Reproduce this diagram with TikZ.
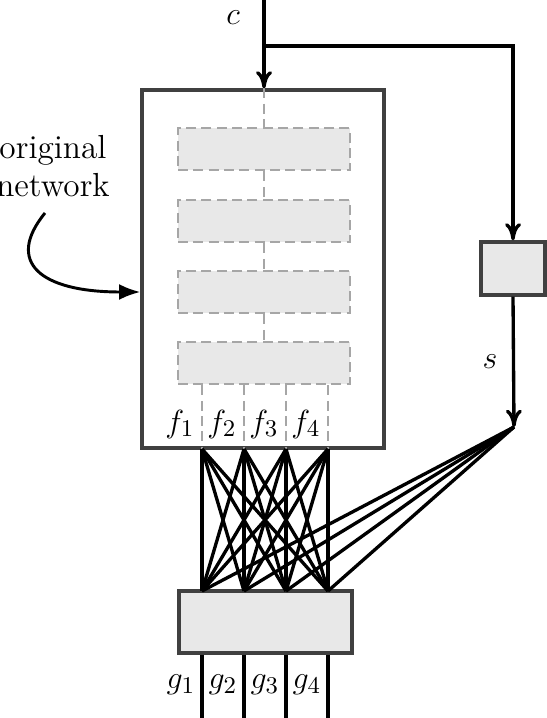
\documentclass[tikz,border=0pt]{standalone}
\usetikzlibrary{arrows.meta}

\begin{document}
\begin{tikzpicture}[x=0.375pt,y=-0.375pt,
  every node/.style={font=\fontsize{12.5}{14}\selectfont},
  frame/.style={draw=black!75,line width=1.2pt,inner sep=0pt},
  layer/.style={draw=black!35,fill=black!9,dash pattern=on 3.75pt off 2pt,line width=1.1pt,inner sep=0pt,
    minimum width=64.5pt,minimum height=15.75pt},
  spine/.style={draw=black!35,dash pattern=on 3.75pt off 2pt,line width=1.1pt},
  wire/.style={line width=1.25pt},
  tip/.style={-{To[length=6.5pt,width=6pt]}}]
\useasboundingbox (0,0) rectangle (546,718);
% the network and its layers
\node[frame,minimum width=90.75pt,minimum height=134.25pt] (net) at (263,269) {};
\node[layer] (layer1) at (264,149) {};
\node[layer] (layer2) at (264,221) {};
\node[layer] (layer3) at (264,292) {};
\node[layer] (layer4) at (264,363) {};
\draw[spine] (net.north -| layer1) -- (layer1.north);
\draw[spine] (layer1.south) -- (layer2.north);
\draw[spine] (layer2.south) -- (layer3.north);
\draw[spine] (layer3.south) -- (layer4.north);
% gate and mixing box
\node[frame,fill=black!9,minimum width=24pt,minimum height=19.9pt] (gate) at (513,268.5) {};
\node[frame,fill=black!9,minimum width=64.9pt,minimum height=23.25pt] (mix) at (265.5,622) {};
\coordinate (sp) at (514,427);
\coordinate (cin) at (264,0);
\coordinate (split) at (264,46);
% features and outputs
\foreach \i/\x in {1/202,2/244,3/286,4/328} {
  \coordinate (f\i) at (\x,449);
  \coordinate (g\i) at (\x,591);
  \coordinate (o\i) at (\x,718);
  \draw[spine] (layer4.south -| f\i) -- (f\i);
  \node at (\x-22,424) {$f_\i$};
  \node at (\x-21,685) {$g_\i$};
  \draw[wire] (mix.south -| g\i) -- (o\i);
  \draw[wire] (sp) -- (g\i);
}
\foreach \i in {1,...,4}
  \foreach \j in {1,...,4}
    \draw[wire] (f\i) -- (g\j);
% inputs
\node at (233,18) {$c$};
\draw[wire,tip] (cin) -- (net.north -| cin);
\draw[wire,tip] (split) -| (gate.north);
\draw[wire,tip] (gate.south) -- (sp);
\node at (490,362) {$s$};
% note
\node[align=center,font=\fontsize{12.5}{14}\selectfont] (note) at (53,166) {original\\network};
\coordinate (notetail) at (45,213);
\draw[line width=1.1pt,-{Latex[length=8pt,width=6pt]}] (notetail) .. controls (5,262) and (40,292) .. (net.west |- layer3);
\end{tikzpicture}
\end{document}
